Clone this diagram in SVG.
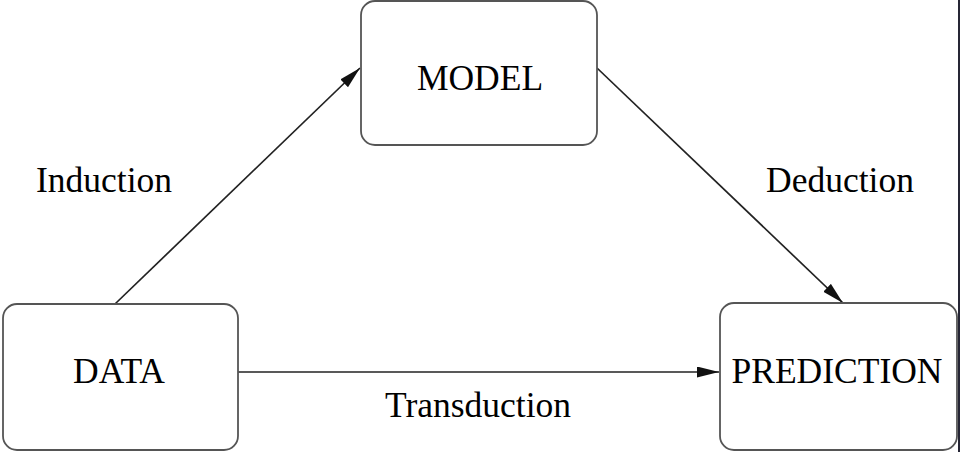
<svg xmlns="http://www.w3.org/2000/svg" width="960" height="452" viewBox="0 0 960 452">
<style>
.box{fill:#ffffff;stroke:#555555;stroke-width:1.8}
.lbl{font-family:"Liberation Serif","Times New Roman",serif;font-size:35.5px;fill:#000000;text-anchor:middle}
.edge{stroke:#222222;stroke-width:1.7;fill:none;marker-end:url(#arr)}
</style>
<defs>
<marker id="arr" markerUnits="userSpaceOnUse" markerWidth="24" markerHeight="12" refX="22" refY="5.5" orient="auto">
<path d="M0,0 L22,5.5 L0,11 z" fill="#111111"/>
</marker>
</defs>
<rect width="960" height="452" fill="#ffffff"/>
<rect x="958" y="0" width="2" height="452" fill="#262635"/>
<g id="connectors">
<line class="edge" x1="115" y1="304" x2="360" y2="68"/>
<line class="edge" x1="597" y1="68" x2="843" y2="303"/>
<line class="edge" x1="238" y1="372" x2="719" y2="372"/>
</g>
<g id="model">
<rect class="box" x="361" y="1" width="236" height="144" rx="14"/>
<text class="lbl" x="480" y="90">MODEL</text>
</g>
<g id="data">
<rect class="box" x="3" y="304" width="235" height="146" rx="14"/>
<text class="lbl" x="119" y="383">DATA</text>
</g>
<g id="prediction">
<rect class="box" x="720" y="303" width="237" height="147" rx="14"/>
<text class="lbl" x="837" y="383">PREDICTION</text>
</g>
<g id="labels">
<text class="lbl" x="104" y="192">Induction</text>
<text class="lbl" x="840" y="192">Deduction</text>
<text class="lbl" x="478" y="417">Transduction</text>
</g>
</svg>
